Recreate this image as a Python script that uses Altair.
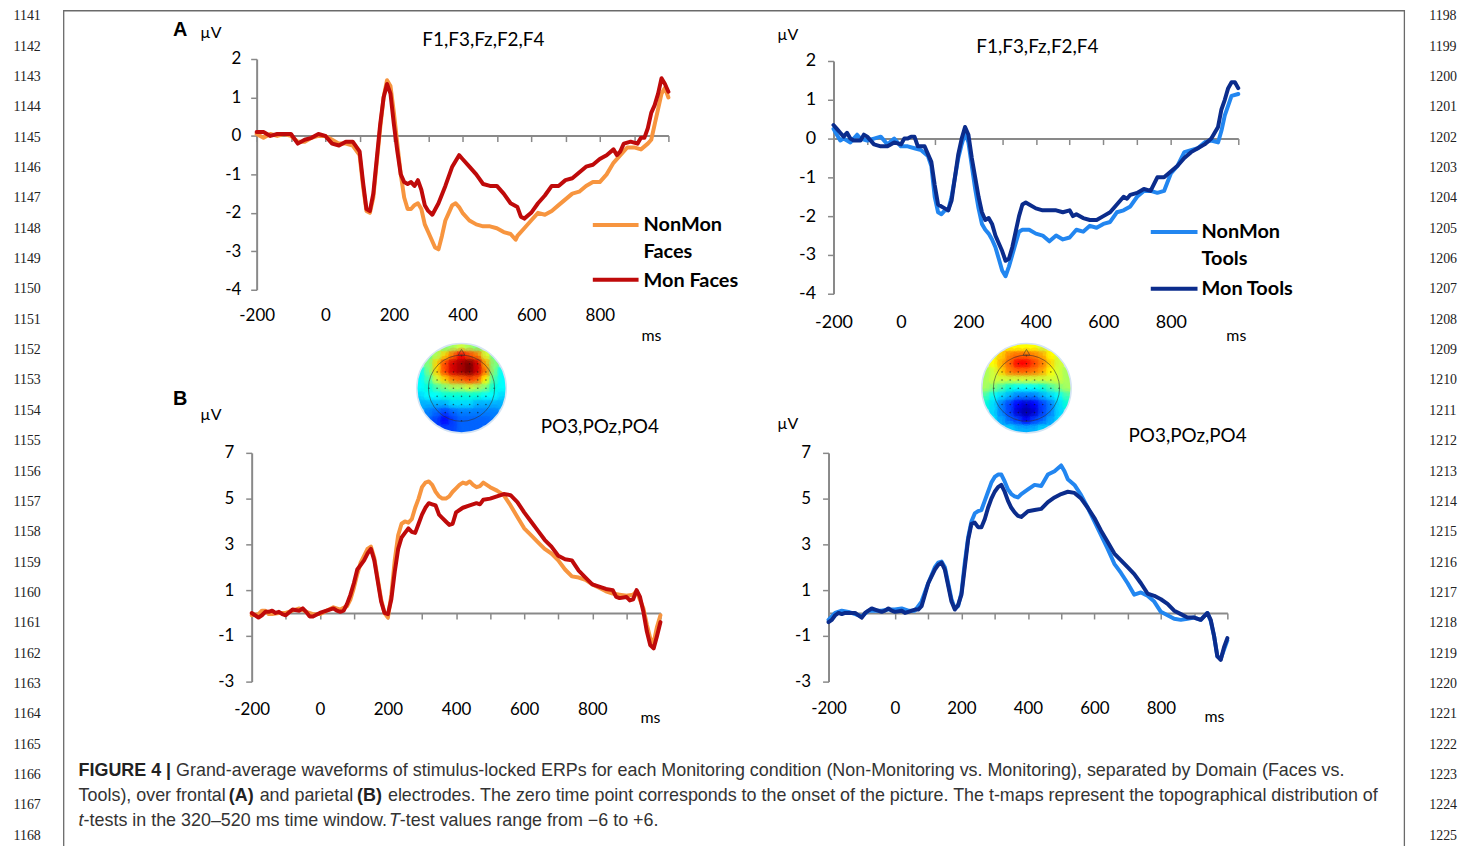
import altair as alt
import pandas as pd

W, H, M = 1475, 838, 8


def P(v):
    return v - M


# ---------------- data: ERP waveforms (ms, µV) ----------------
# Panel A left: F1,F3,Fz,F2,F4 - Faces
AL_NON_T = [-200, -180, -160, -140, -120, -100, -80, -60, -40, -20, 0, 20, 40, 60, 80, 100, 110, 120, 130, 140, 150, 160, 170, 180, 190, 200, 210, 220, 230, 240, 250, 260, 270, 280, 290, 300, 310, 320, 330, 340, 350, 360, 370, 380, 390, 400, 420, 440, 460, 480, 500, 520, 540, 555, 560, 580, 600, 620, 640, 660, 680, 700, 720, 740, 760, 780, 800, 820, 840, 860, 880, 900, 920, 940, 950, 960, 980, 990, 1000]
AL_NON_V = [0.05, -0.05, 0.05, 0, 0.05, 0, -0.15, -0.15, -0.05, 0, 0, -0.1, -0.2, -0.2, -0.25, -0.5, -1.3, -1.95, -2.0, -1.6, -0.7, 0.2, 1.0, 1.45, 1.3, 0.6, -0.2, -1.0, -1.6, -1.9, -1.9, -1.8, -1.75, -1.9, -2.3, -2.5, -2.7, -2.9, -2.95, -2.6, -2.2, -2.0, -1.8, -1.75, -1.85, -2.0, -2.2, -2.3, -2.35, -2.35, -2.4, -2.5, -2.55, -2.7, -2.6, -2.4, -2.2, -2.0, -2.05, -1.95, -1.8, -1.65, -1.5, -1.45, -1.3, -1.2, -1.2, -1.0, -0.7, -0.5, -0.3, -0.3, -0.35, -0.2, -0.1, 0.3, 1.1, 1.25, 1.0]
AL_MON_T = [-200, -180, -160, -140, -120, -100, -80, -60, -40, -20, 0, 20, 40, 60, 80, 100, 110, 120, 130, 140, 150, 160, 170, 180, 190, 200, 210, 220, 230, 240, 250, 260, 270, 280, 290, 300, 312, 330, 350, 370, 390, 400, 420, 440, 460, 480, 500, 520, 540, 560, 570, 580, 600, 620, 640, 660, 680, 700, 720, 740, 760, 780, 800, 820, 840, 850, 860, 870, 890, 910, 920, 930, 940, 950, 960, 970, 980, 990, 1000]
AL_MON_V = [0.1, 0.1, 0, 0.05, 0.05, 0.05, -0.2, -0.1, -0.05, 0.05, 0, -0.2, -0.25, -0.15, -0.15, -0.4, -1.2, -1.9, -1.95, -1.5, -0.6, 0.3, 1.0, 1.35, 1.1, 0.3, -0.4, -1.0, -1.2, -1.25, -1.2, -1.3, -1.15, -1.4, -1.8, -1.95, -2.05, -1.75, -1.3, -0.8, -0.5, -0.6, -0.8, -1.0, -1.25, -1.3, -1.3, -1.5, -1.75, -1.85, -2.1, -2.15, -2.0, -1.75, -1.55, -1.3, -1.3, -1.15, -1.1, -0.95, -0.8, -0.75, -0.6, -0.5, -0.35, -0.5, -0.4, -0.2, -0.15, -0.2, -0.05, -0.05, 0.2, 0.6, 0.8, 1.1, 1.5, 1.35, 1.15]

# Panel A right: F1,F3,Fz,F2,F4 - Tools
AR_NON_T = [-200, -190, -180, -170, -160, -150, -140, -130, -120, -100, -80, -60, -40, -20, 0, 20, 40, 60, 80, 90, 100, 110, 120, 130, 140, 150, 160, 170, 180, 190, 200, 210, 220, 230, 240, 250, 260, 270, 280, 290, 300, 310, 320, 330, 340, 350, 360, 380, 400, 420, 440, 460, 480, 500, 520, 540, 560, 580, 600, 620, 640, 660, 680, 700, 720, 740, 760, 780, 800, 820, 840, 860, 880, 900, 920, 940, 950, 960, 980, 1000]
AR_NON_V = [0.25, 0.1, -0.05, 0.0, -0.05, -0.1, 0.0, 0.1, 0.0, -0.05, 0.0, 0.05, -0.15, 0.0, -0.2, -0.2, -0.25, -0.3, -0.45, -0.7, -1.5, -1.9, -1.95, -1.85, -1.85, -1.5, -1.0, -0.5, -0.15, 0.15, -0.1, -0.7, -1.3, -1.8, -2.2, -2.35, -2.45, -2.6, -2.8, -3.1, -3.4, -3.55, -3.3, -3.0, -2.7, -2.4, -2.35, -2.35, -2.45, -2.5, -2.65, -2.5, -2.6, -2.55, -2.35, -2.4, -2.25, -2.3, -2.2, -2.15, -1.9, -1.85, -1.75, -1.5, -1.35, -1.35, -1.4, -1.35, -0.9, -0.7, -0.35, -0.3, -0.25, -0.1, -0.05, -0.1, 0.2, 0.6, 1.1, 1.15]
AR_MON_T = [-200, -190, -180, -170, -160, -150, -140, -120, -110, -100, -80, -60, -40, -20, 0, 10, 20, 30, 40, 50, 60, 70, 80, 90, 100, 110, 120, 130, 140, 150, 160, 170, 180, 190, 200, 210, 220, 230, 240, 250, 260, 270, 280, 290, 300, 310, 320, 330, 340, 350, 360, 370, 380, 400, 420, 440, 460, 480, 500, 510, 520, 540, 560, 580, 600, 620, 640, 660, 670, 680, 700, 710, 720, 740, 760, 780, 800, 820, 840, 860, 880, 900, 920, 940, 950, 960, 970, 980, 990, 1000]
AR_MON_V = [0.35, 0.25, 0.15, 0.05, 0.15, 0.0, -0.05, -0.05, 0.1, 0.05, -0.15, -0.2, -0.2, -0.1, -0.15, 0.0, 0.0, 0.05, 0.05, -0.2, -0.2, -0.2, -0.4, -0.6, -1.2, -1.7, -1.75, -1.8, -1.85, -1.6, -1.0, -0.4, 0.0, 0.3, 0.1, -0.5, -1.0, -1.5, -1.9, -2.1, -2.05, -2.2, -2.5, -2.7, -2.9, -3.15, -3.1, -2.8, -2.4, -2.0, -1.7, -1.65, -1.7, -1.8, -1.85, -1.85, -1.85, -1.9, -1.85, -2.0, -1.95, -2.05, -2.1, -2.1, -2.0, -1.9, -1.7, -1.5, -1.55, -1.45, -1.4, -1.35, -1.3, -1.35, -1.0, -1.0, -0.85, -0.7, -0.5, -0.35, -0.25, -0.15, 0.0, 0.3, 0.75, 1.0, 1.3, 1.45, 1.45, 1.3]

# Panel B left: PO3,POz,PO4 - Faces
BL_NON_T = [-200, -180, -170, -160, -150, -140, -120, -100, -80, -60, -40, -20, 0, 20, 40, 60, 80, 90, 100, 110, 120, 130, 140, 150, 160, 170, 180, 190, 200, 210, 220, 230, 240, 250, 260, 270, 280, 290, 300, 310, 320, 330, 340, 350, 360, 370, 380, 390, 400, 410, 420, 430, 440, 450, 460, 470, 480, 500, 520, 540, 560, 580, 600, 620, 640, 660, 680, 700, 720, 740, 760, 780, 800, 820, 840, 860, 880, 900, 920, 930, 950, 960, 970, 980, 990, 1000]
BL_NON_V = [-0.1, -0.05, 0.1, 0.1, -0.05, -0.05, 0.0, 0.0, 0.1, 0.2, 0.05, -0.05, -0.05, 0.1, 0.25, 0.15, 0.3, 0.6, 1.1, 1.7, 2.2, 2.5, 2.8, 2.9, 2.4, 1.5, 0.6, 0.0, -0.2, 0.8, 2.3, 3.4, 3.9, 4.0, 3.95, 4.1, 4.6, 5.0, 5.5, 5.7, 5.75, 5.6, 5.3, 5.1, 5.0, 5.0, 5.1, 5.3, 5.45, 5.6, 5.7, 5.65, 5.75, 5.6, 5.5, 5.55, 5.7, 5.5, 5.35, 5.15, 4.7, 4.2, 3.7, 3.4, 3.1, 2.8, 2.6, 2.3, 1.9, 1.6, 1.55, 1.45, 1.25, 1.1, 0.95, 0.85, 0.8, 0.75, 0.8, 0.95, 0.2, -0.5, -1.1, -1.3, -0.6, -0.1]
BL_MON_T = [-200, -190, -180, -170, -160, -150, -140, -130, -120, -110, -100, -80, -60, -50, -40, -30, -20, 0, 20, 40, 50, 60, 70, 80, 90, 100, 110, 120, 130, 140, 150, 160, 170, 180, 190, 200, 210, 220, 230, 240, 250, 260, 270, 280, 290, 300, 310, 320, 330, 340, 350, 360, 370, 380, 390, 400, 420, 440, 460, 470, 480, 500, 520, 540, 560, 580, 600, 620, 640, 660, 680, 700, 720, 740, 760, 780, 800, 820, 840, 860, 870, 880, 900, 910, 920, 930, 940, 950, 960, 970, 980, 990, 1000]
BL_MON_V = [0.0, -0.1, -0.2, -0.1, 0.05, 0.05, 0.1, 0.0, 0.05, -0.05, -0.1, 0.15, 0.1, 0.2, 0.05, -0.15, -0.15, 0.0, 0.1, 0.2, 0.1, 0.05, 0.1, 0.4, 0.8, 1.3, 1.9, 2.1, 2.3, 2.6, 2.8, 2.3, 1.4, 0.5, 0.0, -0.05, 0.6, 1.8, 2.8, 3.3, 3.5, 3.7, 3.55, 3.5, 3.9, 4.3, 4.6, 4.8, 4.75, 4.7, 4.3, 4.15, 4.0, 3.85, 3.9, 4.4, 4.6, 4.7, 4.8, 4.75, 4.95, 5.0, 5.1, 5.2, 5.15, 4.85, 4.4, 4.0, 3.6, 3.2, 2.9, 2.5, 2.35, 2.3, 1.85, 1.55, 1.25, 1.15, 1.05, 1.0, 0.7, 0.65, 0.7, 0.55, 0.6, 1.0, 0.7, 0.05, -0.8, -1.4, -1.55, -1.0, -0.4]

# Panel B right: PO3,POz,PO4 - Tools
BR_NON_T = [-200, -180, -160, -140, -120, -100, -80, -60, -40, -20, 0, 20, 40, 60, 80, 100, 120, 130, 140, 150, 160, 170, 180, 190, 200, 210, 220, 230, 240, 250, 260, 270, 280, 290, 300, 310, 320, 330, 340, 350, 360, 370, 380, 400, 420, 440, 460, 480, 500, 510, 520, 540, 560, 580, 600, 620, 640, 660, 680, 700, 720, 740, 760, 780, 800, 820, 840, 860, 880, 900, 920, 930, 940, 950, 960, 970, 980, 990, 1000]
BR_NON_V = [-0.3, 0.0, 0.1, 0.05, -0.05, -0.15, 0.1, 0.1, 0.1, 0.15, 0.15, 0.2, 0.1, 0.1, 0.5, 1.3, 2.0, 2.2, 2.25, 2.0, 1.3, 0.6, 0.2, 0.3, 0.9, 2.2, 3.3, 4.0, 4.35, 4.45, 4.5, 4.9, 5.3, 5.7, 5.95, 6.05, 6.05, 5.75, 5.4, 5.2, 5.1, 5.05, 5.2, 5.4, 5.6, 5.55, 6.05, 6.2, 6.45, 6.2, 5.85, 5.6, 5.15, 4.6, 4.0, 3.4, 2.8, 2.15, 1.75, 1.3, 0.8, 0.9, 0.75, 0.5, 0.05, -0.1, -0.25, -0.3, -0.25, -0.2, -0.3, -0.15, 0.0, -0.35, -1.0, -1.9, -2.0, -1.6, -1.2]
BR_MON_T = [-200, -190, -180, -170, -160, -150, -140, -120, -110, -100, -90, -80, -70, -60, -40, -30, -20, -10, 0, 20, 30, 40, 60, 70, 80, 90, 100, 110, 120, 130, 140, 150, 160, 170, 180, 190, 200, 210, 220, 230, 240, 250, 260, 270, 280, 290, 300, 310, 320, 330, 340, 350, 360, 370, 380, 400, 420, 440, 460, 480, 500, 520, 540, 560, 580, 600, 620, 640, 660, 680, 700, 720, 740, 760, 780, 800, 820, 840, 860, 880, 900, 920, 930, 940, 950, 960, 970, 980, 990, 1000]
BR_MON_V = [-0.4, -0.3, -0.1, 0.0, -0.05, 0.0, 0.0, 0.0, -0.1, -0.2, 0.0, 0.1, 0.2, 0.15, 0.05, 0.1, 0.2, 0.1, 0.05, 0.1, 0.0, 0.05, 0.15, 0.15, 0.3, 0.8, 1.3, 1.6, 1.9, 2.1, 2.2, 1.9, 1.2, 0.5, 0.15, 0.35, 0.8, 2.0, 3.2, 3.9, 3.95, 3.75, 3.75, 4.1, 4.6, 5.0, 5.3, 5.5, 5.6, 5.3, 4.9, 4.6, 4.4, 4.25, 4.2, 4.45, 4.5, 4.55, 4.85, 5.05, 5.2, 5.3, 5.25, 5.0, 4.6, 4.15, 3.6, 3.1, 2.6, 2.3, 2.0, 1.7, 1.3, 0.85, 0.75, 0.6, 0.4, 0.1, -0.05, -0.2, -0.2, -0.3, -0.15, 0.0, -0.3, -1.0, -1.9, -2.05, -1.5, -1.1]

# t-maps (320-520 ms), rows front (top) to back (bottom), t values
TMAP_FACES = [
    [-1, -1, -0.5, 0, 0.5, 1, 0.5, 0, -0.5, -1, -1],
    [-1.5, -0.5, 0.5, 2, 3.5, 4.5, 4, 3, 1, -0.5, -1.5],
    [-1.5, 0, 2, 4, 5, 5.5, 6, 5, 2.5, 0, -1.5],
    [-1.5, 0, 2, 4, 5, 5.5, 6, 5, 3, 0, -1.5],
    [-1.5, -0.5, 1, 2, 3, 3.5, 4, 3.5, 1.5, -0.5, -1.5],
    [-1.5, -1, -0.5, 0, 0.5, 0.5, 1, 0.5, 0, -1, -1.5],
    [-2, -1.5, -1.5, -1, -1, -1, -1, -1, -1.5, -1.5, -2],
    [-2.5, -2.5, -2.5, -2.5, -2, -2, -2, -2.5, -2.5, -2.5, -2.5],
    [-3, -3, -3.5, -4, -3.5, -3, -3, -3, -3, -3, -3],
    [-3, -3.5, -4, -4.5, -4, -3.5, -3.5, -3.5, -3.5, -3, -3],
    [-3, -3.5, -4, -4, -4, -3.5, -3.5, -3.5, -3.5, -3, -3],
]
TMAP_TOOLS = [
    [0, 0.5, 1, 1.5, 1.5, 1.5, 1.5, 1, 0.5, 0, 0],
    [0.5, 1, 2, 3, 3.5, 3.5, 3, 2.5, 1.5, 1, 0.5],
    [0.5, 1.5, 2.5, 3.5, 4.5, 4.5, 4, 3, 2, 1, 0.5],
    [0.5, 1, 2, 3, 3.5, 3.5, 3, 2.5, 1.5, 1, 0.5],
    [0.5, 1, 1, 1, 1, 1, 1, 1, 1, 1, 0.5],
    [0.5, 0, -0.5, -1, -1.5, -1.5, -1.5, -1, -0.5, 0, 0.5],
    [-0.5, -1.5, -2, -2.5, -3, -3, -3, -2.5, -2, -1.5, -0.5],
    [-1, -2, -3, -4, -4.5, -5, -4.5, -4, -3, -2, -1],
    [-1, -2, -3, -4, -5, -5.5, -5, -4, -3, -2, -1],
    [-1, -1.5, -2.5, -3.5, -4, -4.5, -4, -3.5, -2.5, -1.5, -1],
    [-0.5, -1, -1.5, -2, -2.5, -2.5, -2.5, -2, -1.5, -1, -0.5],
]
JET_STOPS = [-6, -4.5, -3, -1.5, 0, 1.5, 3, 4.5, 6]
JET_COLORS = ["#00007F", "#0000FF", "#007FFF", "#00FFFF", "#7FFF7F", "#FFFF00", "#FF7F00", "#FF0000", "#7F0000"]

X_TICKS = [-200, -100, 0, 100, 200, 300, 400, 500, 600, 700, 800, 900, 1000]
X_LABELS = [-200, 0, 200, 400, 600, 800]
YA_TICKS = [2, 1, 0, -1, -2, -3, -4]
YB_TICKS = [7, 5, 3, 1, -1, -3]
LINE_NUMS_LEFT = list(range(1141, 1169))
LINE_NUMS_RIGHT = list(range(1198, 1226))

GRAY = "#898989"
ORANGE = "#F7953F"
RED = "#BF0A0A"
BLUE = "#2286F0"
NAVY = "#0B2C8C"


def frame(t, v):
    assert len(t) == len(v), (len(t), len(v))
    return pd.DataFrame({"ms": t, "uv": v})


def panel(series, x0, x1, ydom, ybot, ytop, yticks, zero_px, lab_pad, fs_x, fs_y, ylab_pad):
    xs = alt.Scale(domain=[-200, 1000], range=[P(x0), P(x1)], nice=False, zero=False)
    ys = alt.Scale(domain=ydom, range=[P(ybot), P(ytop)], nice=False, zero=False)
    out = []
    for i, (t, v, col) in enumerate(series):
        if i == 0:
            xa = alt.Axis(orient="bottom", offset=P(zero_px) - H, values=X_TICKS, labels=False,
                          ticks=True, tickSize=6, tickColor=GRAY, tickWidth=1.5,
                          domainColor=GRAY, domainWidth=2, grid=False, title=None)
            ya = alt.Axis(orient="left", offset=-P(x0), values=yticks, tickSize=6, tickColor=GRAY,
                          tickWidth=1.5, domainColor=GRAY, domainWidth=2, grid=False, title=None,
                          labelFont="Lato", labelFontSize=fs_y, labelColor="#000", labelFlush=False,
                          labelPadding=ylab_pad, labelExpr="'' + datum.value")
        else:
            xa = alt.Axis(orient="bottom", offset=P(ybot) - H, values=X_LABELS, domain=False,
                          ticks=False, tickSize=0, labelPadding=lab_pad, labelFont="Lato",
                          labelFontSize=fs_x, labelColor="#000", grid=False, title=None,
                          labelFlush=False, labelOverlap=False, labelExpr="'' + datum.value")
            ya = None
        out.append(
            alt.Chart(frame(t, v))
            .mark_line(color=col, strokeWidth=4, strokeJoin="round", strokeCap="round")
            .encode(x=alt.X("ms:Q", scale=xs, axis=xa), y=alt.Y("uv:Q", scale=ys, axis=ya))
        )
    return out


def topo(grid, cx, cy, r=45):
    n = len(grid)
    half = (n - 1) / 2
    recs = [{"c": ci, "r": ri, "t": val} for ri, row in enumerate(grid) for ci, val in enumerate(row)]
    df = pd.DataFrame(recs)
    xs = alt.Scale(domain=[-0.5, n - 0.5], range=[P(cx - r), P(cx + r)], nice=False, zero=False)
    ys = alt.Scale(domain=[-0.5, n - 0.5], range=[P(cy - r), P(cy + r)], nice=False, zero=False)
    cell = 2 * r / n
    enc = dict(x=alt.X("c:Q", scale=xs, axis=None), y=alt.Y("r:Q", scale=ys, axis=None))
    cscale = alt.Scale(domain=JET_STOPS, range=JET_COLORS)
    dist = f"(datum.c-{half})*(datum.c-{half})+(datum.r-{half})*(datum.r-{half})"
    heat = (alt.Chart(df).transform_filter(f"{dist} <= 32.5")
            .mark_square(size=(cell + 1.2) ** 2, opacity=1)
            .encode(color=alt.Color("t:Q", scale=cscale, legend=None), **enc))
    blur = (alt.Chart(df).transform_filter(f"{dist} <= 30")
            .mark_circle(size=(cell * 2.0) ** 2, opacity=0.35)
            .encode(color=alt.Color("t:Q", scale=cscale, legend=None), **enc))
    blur2 = (alt.Chart(df).transform_filter(f"{dist} <= 30")
             .mark_circle(size=(cell * 1.3) ** 2, opacity=0.35)
             .encode(color=alt.Color("t:Q", scale=cscale, legend=None), **enc))
    dots = (alt.Chart(df).transform_filter(f"{dist} <= 16")
            .mark_circle(size=2.5, color="#111", opacity=0.6).encode(**enc))
    ctr = pd.DataFrame({"c": [half], "r": [half]})
    mask = alt.Chart(ctr).mark_point(shape="circle", size=(2 * r + 9) ** 2, filled=False,
                                     stroke="white", strokeWidth=9, opacity=1).encode(**enc)
    rim = alt.Chart(ctr).mark_point(shape="circle", size=(2 * r) ** 2, filled=False,
                                    stroke="#d4e4f4", strokeWidth=1.5, opacity=1).encode(**enc)
    head_r = 0.74 * r
    head = alt.Chart(ctr).mark_point(shape="circle", size=(2 * head_r) ** 2, filled=False,
                                     stroke="#333", strokeWidth=0.7, opacity=0.8).encode(**enc)
    nose_df = pd.DataFrame({"c": [half], "r": [half - head_r / cell - 0.35]})
    nose = alt.Chart(nose_df).mark_point(shape="triangle-up", size=45, filled=False,
                                         stroke="#333", strokeWidth=0.7, opacity=0.8).encode(**enc)
    return [heat, blur, blur2, dots, mask, rim, head, nose]


def texts(rows, **kw):
    df = pd.DataFrame(rows, columns=["x", "y", "label"])
    return alt.Chart(df).mark_text(**kw).encode(
        x=alt.X("x:Q", scale=None, axis=None),
        y=alt.Y("y:Q", scale=None, axis=None),
        text="label:N",
    )


def legend_line(x0, x1, y, col):
    df = pd.DataFrame({"x": [P(x0)], "x2": [P(x1)], "y": [P(y)]})
    return alt.Chart(df).mark_rule(color=col, strokeWidth=4).encode(
        x=alt.X("x:Q", scale=None, axis=None), x2="x2:Q", y=alt.Y("y:Q", scale=None, axis=None))


layers = []

# frame box
box = pd.DataFrame({"x": [P(64)], "x2": [P(1412)], "y": [0.5], "y2": [H + 20]})
layers.append(alt.Chart(box).mark_rect(fillOpacity=0, stroke="#6a6a6a", strokeWidth=1.3).encode(
    x=alt.X("x:Q", scale=None, axis=None), x2="x2:Q",
    y=alt.Y("y:Q", scale=None, axis=None), y2="y2:Q"))

# panels
layers += panel([(AL_NON_T, AL_NON_V, ORANGE), (AL_MON_T, AL_MON_V, RED)],
                258, 672, [-4, 2], 289, 57, YA_TICKS, 134, 18, 17, 17, 10)
layers += panel([(AR_NON_T, AR_NON_V, BLUE), (AR_MON_T, AR_MON_V, NAVY)],
                838, 1245, [-4, 2], 293, 59, YA_TICKS, 137, 20, 18, 18, 12)
layers += panel([(BL_NON_T, BL_NON_V, ORANGE), (BL_MON_T, BL_MON_V, RED)],
                253, 664, [-3, 7], 683, 453, YB_TICKS, 614, 20, 17, 17, 12)
layers += panel([(BR_NON_T, BR_NON_V, BLUE), (BR_MON_T, BR_MON_V, NAVY)],
                833, 1234, [-3, 7], 683, 453, YB_TICKS, 614, 19, 17, 17, 12)

# topographic t-maps
layers += topo(TMAP_FACES, 464, 388)
layers += topo(TMAP_TOOLS, 1032, 388)

# panel letters
layers.append(texts([(P(181), P(28), "A"), (P(181), P(399), "B")],
                    font="Liberation Sans", fontSize=20, fontWeight="bold", color="#000",
                    align="center", baseline="middle"))
# µV and ms
layers.append(texts([(P(212), P(31), "µV"), (P(792), P(33), "µV"), (P(212), P(415), "µV"), (P(792), P(424), "µV")],
                    font="Lato", fontSize=16, color="#000", align="center", baseline="middle"))
layers.append(texts([(P(655), P(336), "ms"), (P(1243), P(336), "ms"), (P(654), P(720), "ms"), (P(1221), P(719), "ms")],
                    font="Lato", fontSize=16, color="#000", align="center", baseline="middle"))
# electrode-group titles
layers.append(texts([(P(486), P(38), "F1,F3,Fz,F2,F4"), (P(1043), P(45), "F1,F3,Fz,F2,F4"),
                     (P(603), P(427), "PO3,POz,PO4"), (P(1194), P(436), "PO3,POz,PO4")],
                    font="Lato", fontSize=19, color="#000", align="center", baseline="middle"))
# legends
layers.append(legend_line(596, 642, 224, ORANGE))
layers.append(legend_line(596, 642, 279, RED))
layers.append(legend_line(1157, 1204, 231, BLUE))
layers.append(legend_line(1157, 1204, 288, NAVY))
layers.append(texts([(P(647), P(224), "NonMon"), (P(647), P(251), "Faces"), (P(647), P(280), "Mon Faces"),
                     (P(1208), P(231), "NonMon"), (P(1208), P(258), "Tools"), (P(1208), P(288), "Mon Tools")],
                    font="Lato", fontSize=20, fontWeight="bold", color="#000", align="left", baseline="middle"))

# line numbers
step = (838 - 14) / 27
layers.append(texts([(P(41), P(14 + i * step), str(n)) for i, n in enumerate(LINE_NUMS_LEFT)],
                    font="Liberation Serif", fontSize=14, color="#222", align="right", baseline="middle"))
layers.append(texts([(P(1437), P(14 + i * step), str(n)) for i, n in enumerate(LINE_NUMS_RIGHT)],
                    font="Liberation Serif", fontSize=14, color="#222", align="left", baseline="middle"))

# caption
CAP_FONT = "Liberation Sans"
CAP_SIZE = 18
CAP_COL = "#333333"
layers.append(texts([(P(79), P(773), "FIGURE 4 |"), (P(230), P(798), "(A)"), (P(359), P(798), "(B)")],
                    font=CAP_FONT, fontSize=CAP_SIZE, fontWeight="bold", color="#222", align="left", baseline="middle"))
layers.append(texts([
    (P(177), P(773), "Grand-average waveforms of stimulus-locked ERPs for each Monitoring condition (Non-Monitoring vs. Monitoring), separated by Domain (Faces vs."),
    (P(79), P(798), "Tools), over frontal"),
    (P(261), P(798), "and parietal"),
    (P(390), P(798), "electrodes. The zero time point corresponds to the onset of the picture. The t-maps represent the topographical distribution of"),
    (P(84), P(823), "-tests in the 320–520 ms time window."),
    (P(402), P(823), "-test values range from −6 to +6."),
], font=CAP_FONT, fontSize=CAP_SIZE, color=CAP_COL, align="left", baseline="middle"))
layers.append(texts([(P(79), P(823), "t"), (P(391), P(823), "T")],
                    font=CAP_FONT, fontSize=CAP_SIZE, fontStyle="italic", color=CAP_COL, align="left", baseline="middle"))

chart = (
    alt.layer(*layers)
    .resolve_scale(x="independent", y="independent")
    .properties(width=W, height=H, autosize=alt.AutoSizeParams(type="none"), padding=0)
    .configure_view(stroke=None)
)

chart.save("out.html", embed_options={"renderer": "svg", "actions": False})
